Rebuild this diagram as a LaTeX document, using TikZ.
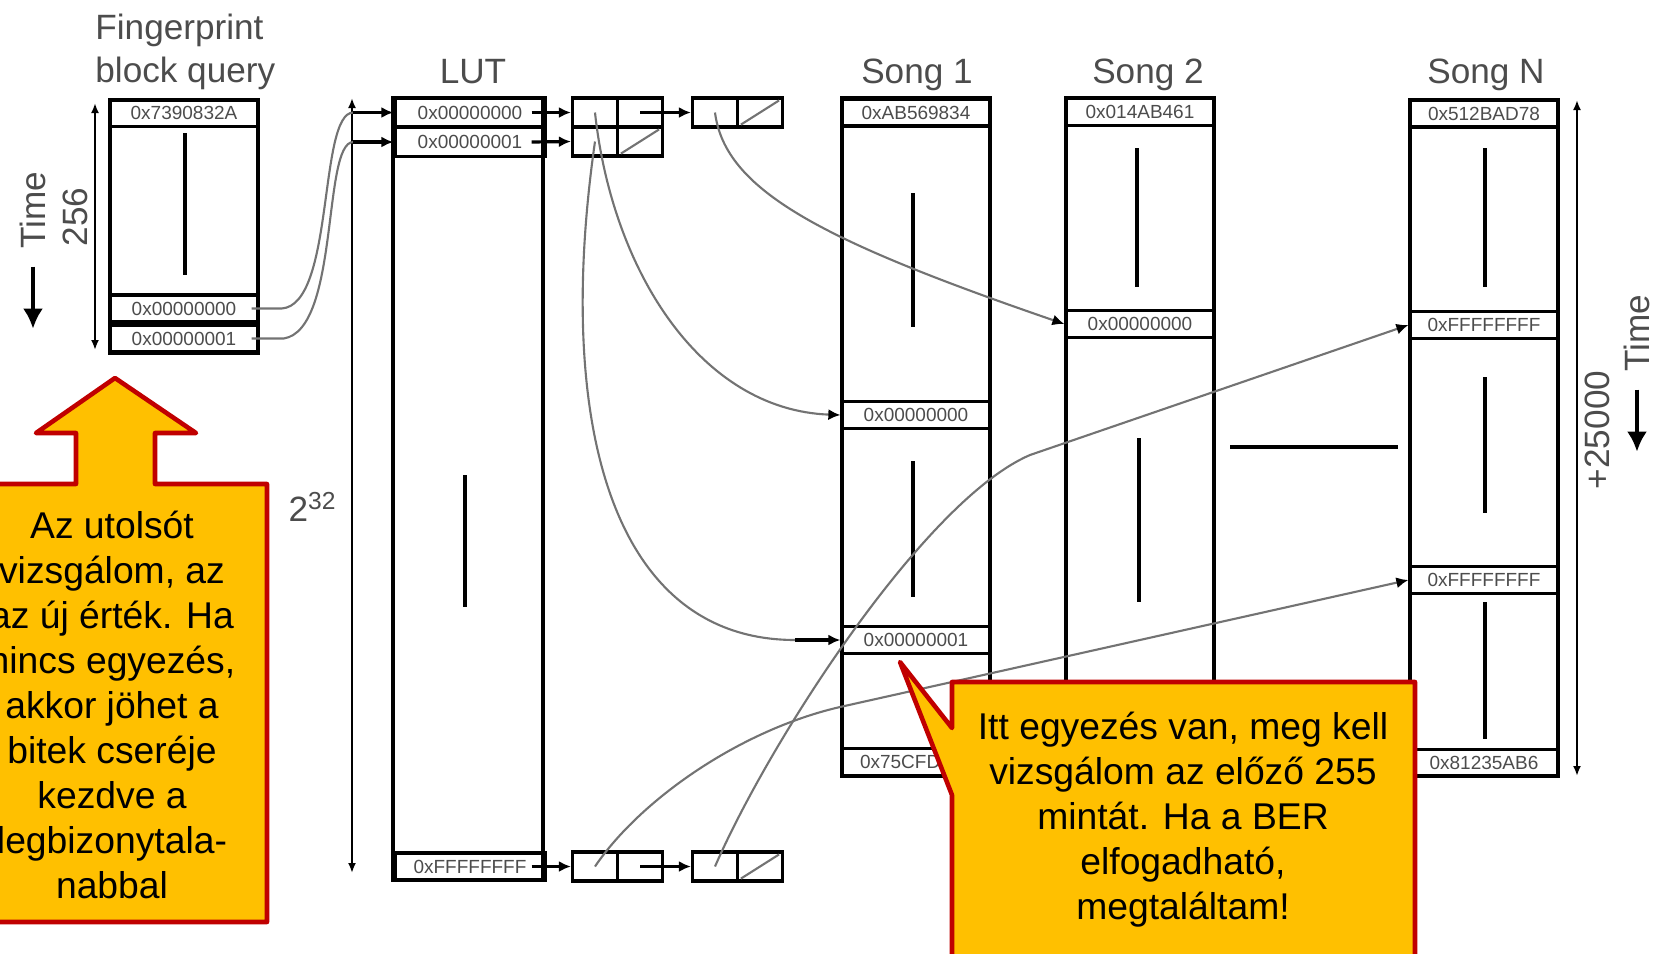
\documentclass[tikz,border=0pt]{standalone}
\usepackage{fontspec}
\setmainfont{Liberation Sans}
\usetikzlibrary{arrows.meta, calc}

\definecolor{calloutfill}{HTML}{FFC000}
\definecolor{calloutred}{HTML}{C00000}

\tikzset{
  col/.style={line width=0.9pt},
  slot/.style={draw, line width=0.9pt, minimum width=#1, minimum height=0.27cm, inner sep=0pt,
    font=\fontsize{5.4}{6}\selectfont, text=black!70},
  slot/.default=1.48cm,
  cell/.style={draw, line width=0.9pt, minimum width=0.45cm, minimum height=#1, inner sep=0pt},
  cell/.default=0.29cm,
  wire/.style={draw=black!55, line width=0.6pt},
  ptr/.style={wire, -{Latex[length=1.2mm,width=1.1mm,color=black]}},
  blk/.style={line width=0.9pt, -{Latex[length=1.2mm,width=1.1mm]}},
  nullptr/.style={draw=black!55, line width=0.6pt},
  dim/.style={line width=0.8pt, {Latex[length=1mm,width=0.8mm]}-{Latex[length=1mm,width=0.8mm]}},
  timearrow/.style={line width=1.3pt, -{Latex[length=2mm,width=2mm]}},
  title/.style={font=\fontsize{10}{12.2}\selectfont, text=black!70},
  callout/.style={fill=calloutfill, draw=calloutred, line width=1.3pt, line join=round},
  note/.style={font=\fontsize{10.6}{12.8}\selectfont, align=center, inner sep=0pt}
}

\begin{document}
\begin{tikzpicture}[x=0.01cm, y=-0.01cm]
    \useasboundingbox (0,0) rectangle (1656,953);
    \clip (0,0) rectangle (1656,953);

    % Fingerprint block query
    \node[title, align=left, anchor=west] (fptitle) at (83,52) {Fingerprint\\block query};
    \draw[col] (110,100) rectangle (258,353);
    \node[slot] (fq0) at (184,113) {0x7390832A};
    \node[slot] (fq1) at (184,308.5) {0x00000000};
    \node[slot] (fq2) at (184,338.5) {0x00000001};
    \draw[col] (185,133) -- (185,275);
    \draw[dim] (95,103) -- (95,350);
    \node[title, rotate=90] (fplen) at (75,217) {256};
    \node[title, rotate=90, inner sep=1pt] (fptime) at (33,210) {Time};
    \draw[timearrow] ([yshift=-4pt]fptime.west) -- ++(0,62);

    % Look-up table
    \node[title] (luttitle) at (473,72) {LUT};
    \draw[col] (393,98) rectangle (543,880);
    \node[slot=1.5cm, minimum height=0.29cm] (lut0) at (470,112.5) {0x00000000};
    \node[slot=1.5cm, minimum height=0.29cm] (lut1) at (470,142) {0x00000001};
    \node[slot=1.5cm] (lut2) at (470,866.5) {0xFFFFFFFF};
    \draw[col] (465,475) -- (465,607);
    \draw[dim] (352,98) -- (352,873);
    \node[title] (lutlen) at (313,507) {2\textsuperscript{32}};

    % Linked lists
    \node[cell] (l1a) at (595,112.5) {};
    \node[cell] (l1b) at (640,112.5) {};
    \node[cell] (l2a) at (715,112.5) {};
    \node[cell] (l2b) at (760,112.5) {};
    \node[cell] (l3a) at (595,141.5) {};
    \node[cell] (l3b) at (640,141.5) {};
    \node[cell] (r1a) at (595,866.5) {};
    \node[cell] (r1b) at (640,866.5) {};
    \node[cell] (r2a) at (715,866.5) {};
    \node[cell] (r2b) at (760,866.5) {};
    \foreach \c in {l2b, l3b, r2b}
        \draw[nullptr] ([shift={(0.05cm,0.04cm)}]\c.south west) -- ([shift={(-0.05cm,-0.04cm)}]\c.north east);
    \draw[blk] ([xshift=-0.15cm]lut0.east) -- (l1a.west);
    \draw[blk] ([xshift=-0.15cm]lut1.east) -- (l3a.west);
    \draw[blk] ([xshift=-0.15cm]lut2.east) -- (r1a.west);
    \draw[blk] (l1b.center) -- (l2a.west);
    \draw[blk] (r1b.center) -- (r2a.west);

    % Song 1
    \node[title] (s1title) at (917,75) {Song 1};
    \draw[col] (842,98) rectangle (990,776);
    \node[slot] (s1h) at (916,112.5) {0xAB569834};
    \node[slot] (s1a) at (916,415) {0x00000000};
    \node[slot] (s1b) at (916,640) {0x00000001};
    \node[slot] (s1z) at (916,762) {0x75CFD564};
    \draw[col] (913,193) -- (913,327) (913,461) -- (913,597);

    % Song 2
    \node[title] (s2title) at (1148,75) {Song 2};
    \draw[col] (1066,98) rectangle (1214,776);
    \node[slot] (s2h) at (1140,112) {0x014AB461};
    \node[slot] (s2a) at (1140,324) {0x00000000};
    \draw[col] (1137,148) -- (1137,287) (1139,438) -- (1139,602);
    \draw[col] (1230,447) -- (1398,447);

    % Song N
    \node[title] (sntitle) at (1486,75) {Song N};
    \draw[col] (1410,100) rectangle (1558,776);
    \node[slot] (snh) at (1484,113.5) {0x512BAD78};
    \node[slot] (sna) at (1484,325) {0xFFFFFFFF};
    \node[slot] (snb) at (1484,580) {0xFFFFFFFF};
    \node[slot] (snz) at (1484,763) {0x81235AB6};
    \draw[col] (1485,148) -- (1485,287) (1485,377) -- (1485,513) (1485,602) -- (1485,739);
    \draw[dim] (1577,100) -- (1577,776);
    \node[title, rotate=90] (snlen) at (1597,430) {+25000};
    \node[title, rotate=90, inner sep=1pt] (sntime) at (1637,333) {Time};
    \draw[timearrow] ([yshift=-4pt]sntime.west) -- ++(0,62);

    % Query to LUT
    \draw[wire] ([xshift=-0.08cm]fq1.east) -- ++(30,0) .. controls (335,305) and (318,112.5) .. ([xshift=-0.4cm]lut0.west);
    \draw[blk] ([xshift=-0.4cm]lut0.west) -- (lut0.west);
    \draw[wire] ([xshift=-0.08cm]fq2.east) -- ++(32,0) .. controls (340,330) and (322,142) .. ([xshift=-0.4cm]lut1.west);
    \draw[blk] ([xshift=-0.4cm]lut1.west) -- (lut1.west);

    % List entries to songs
    \coordinate (bendA) at (1030,455);
    \coordinate (bendB) at (840,707);
    \draw[ptr] (l1a.center) .. controls (612,270) and (700,410) .. (s1a.west);
    \draw[ptr] (l2a.center) .. controls (725,190) and (820,240) .. (s2a.west);
    \draw[wire] (l3a.center) .. controls (555,420) and (610,640) .. ([xshift=-0.45cm]s1b.west);
    \draw[blk] ([xshift=-0.45cm]s1b.west) -- (s1b.west);
    \draw[ptr] (r2a.center) .. controls (770,740) and (925,500) .. (bendA) -- (sna.west);
    \draw[ptr] (r1a.center) .. controls (640,800) and (740,730) .. (bendB) -- (snb.west);

    % Callouts
    \draw[callout] (-20,484) -- (76,484) -- (76,433) -- (36,433) -- (115,378) -- (196,433)
        -- (155,433) -- (155,484) -- (267,484) -- (267,922) -- (-20,922) -- cycle;
    \node[note] (note1) at (112,705) {Az utolsót\\vizsgálom, az\\az új érték. Ha\\nincs egyezés,\\akkor jöhet a\\bitek cseréje\\kezdve a\\legbizonytala-\\nabbal};
    \draw[callout] (952,682) -- (1415,682) -- (1415,990) -- (952,990) -- (952,795) -- (900,662)
        -- (952,728) -- cycle;
    \node[note] (note2) at (1183,820) {Itt egyezés van, meg kell\\vizsgálom az előző 255\\mintát. Ha a BER\\elfogadható,\\megtaláltam!};
\end{tikzpicture}
\end{document}
